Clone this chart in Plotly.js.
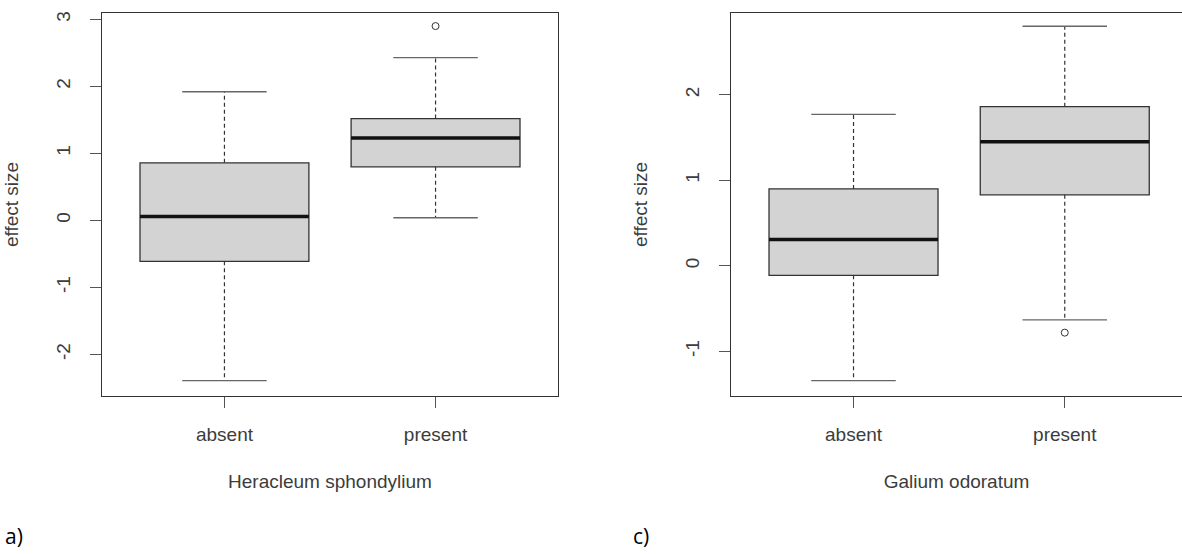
<!DOCTYPE html>
<html>
<head>
<meta charset="utf-8">
<script src="https://cdn.plot.ly/plotly-3.0.1.min.js"></script>
<style>html,body{margin:0;padding:0;background:#fff;}#chart{width:1182px;height:554px;}</style>
</head>
<body>
<div id="chart"></div>
<script>
// ---- data ----
const categories = ['absent', 'present'];
const categoryPos = [1, 2];

const heracleumLowerWhisker = [-2.39, 0.04];
const heracleumQ1 = [-0.61, 0.80];
const heracleumMedian = [0.06, 1.23];
const heracleumQ3 = [0.86, 1.52];
const heracleumUpperWhisker = [1.92, 2.43];
const heracleumOutliers = [[], [2.90]];

const galiumLowerWhisker = [-1.34, -0.63];
const galiumQ1 = [-0.11, 0.83];
const galiumMedian = [0.31, 1.45];
const galiumQ3 = [0.90, 1.86];
const galiumUpperWhisker = [1.77, 2.80];
const galiumOutliers = [[], [-0.78]];

const leftTicks = [-2, -1, 0, 1, 2, 3];
const leftTickText = ['-2', '-1', '0', '1', '2', '3'];
const rightTicks = [-1, 0, 1, 2];
const rightTickText = ['-1', '0', '1', '2'];

const panelTitles = ['Heracleum sphondylium', 'Galium odoratum'];
const panelLetters = ['a)', 'c)'];
const yTitle = 'effect size';

// ---- style ----
const BOXW = 0.8, CAPW = 0.4;
const INK = '#333333', TXT = '#3c3c3c', FILL = '#d3d3d3';

function panelTraces(xa, ya, lw, q1, med, q3, uw, outl) {
  const tr = [];
  categoryPos.forEach((p, i) => {
    tr.push({
      type: 'box', xaxis: xa, yaxis: ya, x: [p],
      q1: [q1[i]], median: [med[i]], q3: [q3[i]],
      lowerfence: [q1[i]], upperfence: [q3[i]],
      width: BOXW, whiskerwidth: 0, boxpoints: false,
      fillcolor: FILL, line: {color: INK, width: 1.3},
      hoverinfo: 'skip', showlegend: false
    });
    // median (thick)
    tr.push({
      type: 'scatter', mode: 'lines', xaxis: xa, yaxis: ya,
      x: [p - BOXW / 2, p + BOXW / 2], y: [med[i], med[i]],
      line: {color: '#111', width: 3.5}, hoverinfo: 'skip', showlegend: false
    });
    // dashed whiskers
    tr.push({
      type: 'scatter', mode: 'lines', xaxis: xa, yaxis: ya,
      x: [p, p, null, p, p], y: [q3[i], uw[i], null, q1[i], lw[i]],
      line: {color: INK, width: 1.2, dash: '4px,3px'}, hoverinfo: 'skip', showlegend: false
    });
    // staples
    tr.push({
      type: 'scatter', mode: 'lines', xaxis: xa, yaxis: ya,
      x: [p - CAPW / 2, p + CAPW / 2, null, p - CAPW / 2, p + CAPW / 2],
      y: [uw[i], uw[i], null, lw[i], lw[i]],
      line: {color: '#666', width: 1.3}, hoverinfo: 'skip', showlegend: false
    });
    if (outl[i].length) {
      tr.push({
        type: 'scatter', mode: 'markers', xaxis: xa, yaxis: ya,
        x: outl[i].map(() => p), y: outl[i],
        marker: {symbol: 'circle-open', size: 7, color: INK, line: {width: 1}},
        hoverinfo: 'skip', showlegend: false
      });
    }
  });
  return tr;
}

const data = [].concat(
  panelTraces('x', 'y', heracleumLowerWhisker, heracleumQ1, heracleumMedian, heracleumQ3, heracleumUpperWhisker, heracleumOutliers),
  panelTraces('x2', 'y2', galiumLowerWhisker, galiumQ1, galiumMedian, galiumQ3, galiumUpperWhisker, galiumOutliers)
);

const W = 1182, H = 554;
const FONT = 'Liberation Sans, Arial, sans-serif';
const yDom = [1 - 396 / H, 1 - 13 / H];

function xAxis(domain, range, title, mirror) {
  return {
    domain: domain, range: range, tickmode: 'array', tickvals: categoryPos, ticktext: categories,
    ticks: 'outside', ticklen: 11, tickcolor: '#555', tickwidth: 1,
    showline: true, linecolor: INK, linewidth: 1.2, mirror: mirror,
    showgrid: false, zeroline: false, ticklabelstandoff: 10,
    tickfont: {family: FONT, size: 19, color: TXT},
    title: {text: title, font: {family: FONT, size: 19, color: TXT}, standoff: 30},
    automargin: false, fixedrange: true
  };
}
function yAxis(anchor, range, ticks, tickText, mirror) {
  return {
    domain: yDom, range: range, anchor: anchor, tickmode: 'array', tickvals: ticks, ticktext: tickText,
    ticks: 'outside', ticklen: 11, tickcolor: '#555', tickwidth: 1, tickangle: -90,
    showline: true, linecolor: INK, linewidth: 1.2, mirror: mirror,
    showgrid: false, zeroline: false, ticklabelstandoff: 12,
    tickfont: {family: FONT, size: 19, color: TXT},
    title: {text: yTitle, font: {family: FONT, size: 19, color: TXT}, standoff: 29},
    automargin: false, fixedrange: true
  };
}

const layout = {
  width: W, height: H,
  margin: {l: 0, r: 0, t: 0, b: 0},
  paper_bgcolor: '#fff', plot_bgcolor: '#fff',
  showlegend: false,
  xaxis: xAxis([102 / W, 558 / W], [0.42, 2.58], panelTitles[0], true),
  yaxis: yAxis('x', [-2.62, 3.095], leftTicks, leftTickText, true),
  xaxis2: Object.assign(xAxis([731 / W, 1], [0.42, 2.555], panelTitles[1], true), {anchor: 'y2'}),
  yaxis2: yAxis('x2', [-1.52, 2.955], rightTicks, rightTickText, false),
  annotations: [
    {text: panelLetters[0], xref: 'paper', yref: 'paper', x: 3 / W, y: 1 - 536 / H,
     xanchor: 'left', yanchor: 'middle', showarrow: false,
     font: {family: 'Open Sans, Liberation Sans, sans-serif', size: 21, color: '#000'}},
    {text: panelLetters[1], xref: 'paper', yref: 'paper', x: 631 / W, y: 1 - 536 / H,
     xanchor: 'left', yanchor: 'middle', showarrow: false,
     font: {family: 'Open Sans, Liberation Sans, sans-serif', size: 21, color: '#000'}}
  ]
};

Plotly.newPlot('chart', data, layout, {staticPlot: true, displayModeBar: false});
</script>
</body>
</html>
